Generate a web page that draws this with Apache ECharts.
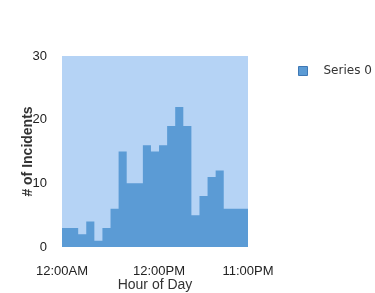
<!DOCTYPE html>
<html>
<head>
<meta charset="utf-8">
<script src="https://cdn.jsdelivr.net/npm/echarts@6/dist/echarts.min.js"></script>
<style>
  html, body { margin: 0; padding: 0; background: #fff; }
  #chart { width: 375px; height: 293px; }
</style>
</head>
<body>
<div id="chart"></div>
<script>
// hours of the day, 0..23
const hours = [
    "12:00AM", "1:00AM", "2:00AM", "3:00AM", "4:00AM", "5:00AM",
    "6:00AM", "7:00AM", "8:00AM", "9:00AM", "10:00AM", "11:00AM",
    "12:00PM", "1:00PM", "2:00PM", "3:00PM", "4:00PM", "5:00PM",
    "6:00PM", "7:00PM", "8:00PM", "9:00PM", "10:00PM", "11:00PM"
];
const incidents = [3, 3, 2, 4, 1, 3, 6, 15, 10, 10, 16, 15, 16, 19, 22, 19, 5, 8, 11, 12, 6, 6, 6, 6];
const shownLabels = [0, 12, 23];
const seriesName = "Series 0";

const chart = echarts.init(document.getElementById("chart"));

chart.setOption({
    animation: false,
    textStyle: { fontFamily: "Liberation Sans" },
    grid: {
        left: 62, right: 127, top: 56, bottom: 46,
        outerBoundsMode: "none",
        show: true,
        backgroundColor: "#b5d3f5",
        borderWidth: 0
    },
    legend: {
        left: 298, top: 65,
        padding: 0,
        itemWidth: 9, itemHeight: 9,
        data: [{ name: seriesName, icon: "rect" }],
        textStyle: { fontFamily: "DejaVu Sans", fontSize: 12, color: "#333", padding: [0, 0, 0, 11] },
        itemStyle: { borderColor: "#3f78b5", borderWidth: 1 }
    },
    xAxis: {
        type: "category",
        data: hours,
        boundaryGap: false,
        name: "Hour of Day",
        nameLocation: "middle",
        nameGap: 31,
        nameMoveOverlap: false,
        nameTextStyle: { fontSize: 14, color: "#333" },
        axisLine: { show: false },
        axisTick: { show: false },
        axisLabel: {
            interval: (i) => shownLabels.includes(i),
            margin: 18,
            fontSize: 13,
            color: "#222"
        }
    },
    yAxis: {
        type: "value",
        min: 0, max: 30, interval: 10,
        name: "# of Incidents",
        nameLocation: "middle",
        nameGap: 27,
        nameMoveOverlap: false,
        nameTextStyle: { fontSize: 14, fontWeight: "bold", color: "#333" },
        splitLine: { show: false },
        axisLine: { show: false },
        axisTick: { show: false },
        axisLabel: { margin: 15, fontSize: 13, color: "#222" }
    },
    series: [{
        name: seriesName,
        type: "line",
        step: "end",
        data: incidents,
        symbol: "none",
        color: "#5b9bd5",
        lineStyle: { width: 0 },
        areaStyle: { color: "#5b9bd5", opacity: 1 }
    }]
});
</script>
</body>
</html>
